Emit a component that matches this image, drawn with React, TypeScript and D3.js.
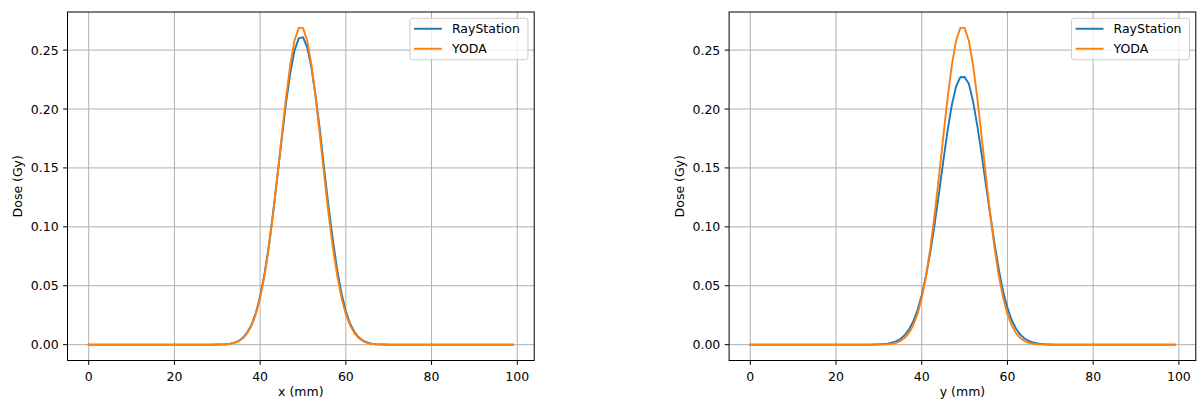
import React from 'react';
import * as d3 from 'd3';

// Depth profiles sampled every mm (0..99 mm)
const positionsMm = d3.range(0, 100);

const xRayStation = [
  0, 0, 0, 0, 0, 0, 0, 0, 0, 0,
  0, 0, 0, 0, 0, 0, 0, 0, 0, 0,
  0, 0, 0, 0, 0, 0, 0, 0, 0, 0,
  0.0001, 0.0002, 0.0004, 0.0009, 0.0017, 0.0032, 0.0059, 0.0103, 0.0170, 0.0268,
  0.0410, 0.0595, 0.0830, 0.1115, 0.1420, 0.1735, 0.2041, 0.2299, 0.2492, 0.2600,
  0.2610, 0.2521, 0.2344, 0.2096, 0.1805, 0.1470, 0.1160, 0.0880, 0.0630, 0.0432,
  0.0283, 0.0178, 0.0107, 0.0062, 0.0034, 0.0018, 0.0009, 0.0004, 0.0002, 0.0001,
  0, 0, 0, 0, 0, 0, 0, 0, 0, 0,
  0, 0, 0, 0, 0, 0, 0, 0, 0, 0,
  0, 0, 0, 0, 0, 0, 0, 0, 0, 0,
];

const xYoda = [
  0, 0, 0, 0, 0, 0, 0, 0, 0, 0,
  0, 0, 0, 0, 0, 0, 0, 0, 0, 0,
  0, 0, 0, 0, 0, 0, 0, 0, 0, 0,
  0.0001, 0.0002, 0.0004, 0.0008, 0.0016, 0.0031, 0.0056, 0.0098, 0.0163, 0.0259,
  0.0397, 0.0582, 0.0818, 0.1101, 0.1421, 0.1758, 0.2083, 0.2367, 0.2577, 0.2689,
  0.2689, 0.2577, 0.2367, 0.2083, 0.1758, 0.1421, 0.1101, 0.0818, 0.0582, 0.0397,
  0.0259, 0.0163, 0.0098, 0.0056, 0.0031, 0.0016, 0.0008, 0.0004, 0.0002, 0.0001,
  0, 0, 0, 0, 0, 0, 0, 0, 0, 0,
  0, 0, 0, 0, 0, 0, 0, 0, 0, 0,
  0, 0, 0, 0, 0, 0, 0, 0, 0, 0,
];

const yRayStation = [
  0, 0, 0, 0, 0, 0, 0, 0, 0, 0,
  0, 0, 0, 0, 0, 0, 0, 0, 0, 0,
  0, 0, 0, 0, 0, 0, 0, 0, 0, 0.0001,
  0.0002, 0.0005, 0.0009, 0.0016, 0.0028, 0.0048, 0.0080, 0.0128, 0.0196, 0.0292,
  0.0420, 0.0585, 0.0785, 0.1020, 0.1280, 0.1550, 0.1810, 0.2030, 0.2190, 0.2270,
  0.2272, 0.2215, 0.2060, 0.1850, 0.1610, 0.1350, 0.1100, 0.0855, 0.0635, 0.0450,
  0.0312, 0.0207, 0.0135, 0.0085, 0.0052, 0.0031, 0.0018, 0.0010, 0.0005, 0.0002,
  0.0001, 0, 0, 0, 0, 0, 0, 0, 0, 0,
  0, 0, 0, 0, 0, 0, 0, 0, 0, 0,
  0, 0, 0, 0, 0, 0, 0, 0, 0, 0,
];

const yYoda = [
  0, 0, 0, 0, 0, 0, 0, 0, 0, 0,
  0, 0, 0, 0, 0, 0, 0, 0, 0, 0,
  0, 0, 0, 0, 0, 0, 0, 0, 0, 0,
  0.0001, 0.0002, 0.0004, 0.0008, 0.0016, 0.0031, 0.0056, 0.0098, 0.0163, 0.0259,
  0.0397, 0.0582, 0.0818, 0.1101, 0.1421, 0.1758, 0.2083, 0.2367, 0.2577, 0.2689,
  0.2689, 0.2577, 0.2367, 0.2083, 0.1758, 0.1421, 0.1101, 0.0818, 0.0582, 0.0397,
  0.0259, 0.0163, 0.0098, 0.0056, 0.0031, 0.0016, 0.0008, 0.0004, 0.0002, 0.0001,
  0, 0, 0, 0, 0, 0, 0, 0, 0, 0,
  0, 0, 0, 0, 0, 0, 0, 0, 0, 0,
  0, 0, 0, 0, 0, 0, 0, 0, 0, 0,
];

const seriesNames = ['RayStation', 'YODA'];
const seriesColors = ['#1f77b4', '#ff7f0e'];

const FONT = '"DejaVu Sans", sans-serif';
const FS = 12.5;
const TICK = 4.4;

type PanelProps = {
  left: number;
  right: number;
  top: number;
  bottom: number;
  series: number[][];
  xLabel: string;
};

function ProfilePanel({ left, right, top, bottom, series, xLabel }: PanelProps) {
  // matplotlib-like 5% margins
  const xExt = d3.extent(positionsMm) as [number, number];
  const xPad = (xExt[1] - xExt[0]) * 0.05;
  const allY = series.flat();
  const yExt = d3.extent(allY) as [number, number];
  const yPad = (yExt[1] - yExt[0]) * 0.05;

  const xScale = d3.scaleLinear().domain([xExt[0] - xPad, xExt[1] + xPad]).range([left, right]);
  const yScale = d3.scaleLinear().domain([yExt[0] - yPad, yExt[1] + yPad]).range([bottom, top]);

  const xTicks = xScale.ticks(6);
  const yTicks = yScale.ticks(6);
  const fmtY = d3.format('.2f');

  const line = d3.line<number>()
    .x((_, i) => xScale(positionsMm[i]))
    .y(d => yScale(d));

  const legendW = 118;
  const legendH = 41.5;
  const legendX = right - 6.25 - legendW;
  const legendY = top + 6.25;

  return (
    <g>
      {/* Grid */}
      <g stroke="#b0b0b0" strokeWidth={1}>
        {xTicks.map(t => (
          <line key={`gx${t}`} x1={xScale(t)} x2={xScale(t)} y1={top} y2={bottom} />
        ))}
        {yTicks.map(t => (
          <line key={`gy${t}`} x1={left} x2={right} y1={yScale(t)} y2={yScale(t)} />
        ))}
      </g>

      {/* Profiles */}
      {series.map((s, i) => (
        <path
          key={seriesNames[i]}
          d={line(s) || ''}
          fill="none"
          stroke={seriesColors[i]}
          strokeWidth={1.9}
          strokeLinejoin="round"
          strokeLinecap="square"
        />
      ))}

      {/* Spines */}
      <rect x={left} y={top} width={right - left} height={bottom - top} fill="none" stroke="#000" strokeWidth={1} />

      {/* X ticks */}
      {xTicks.map(t => (
        <g key={`tx${t}`}>
          <line x1={xScale(t)} x2={xScale(t)} y1={bottom} y2={bottom + TICK} stroke="#000" strokeWidth={1} />
          <text x={xScale(t)} y={bottom + 20} textAnchor="middle" fontSize={FS} fontFamily={FONT}>
            {t}
          </text>
        </g>
      ))}

      {/* Y ticks */}
      {yTicks.map(t => (
        <g key={`ty${t}`}>
          <line x1={left - TICK} x2={left} y1={yScale(t)} y2={yScale(t)} stroke="#000" strokeWidth={1} />
          <text x={left - 2 * TICK} y={yScale(t)} dy="0.36em" textAnchor="end" fontSize={FS} fontFamily={FONT}>
            {fmtY(t)}
          </text>
        </g>
      ))}

      {/* Axis labels */}
      <text x={(left + right) / 2} y={396} textAnchor="middle" fontSize={FS} fontFamily={FONT}>
        {xLabel}
      </text>
      <text
        transform={`translate(${left - 45.5},${(top + bottom) / 2}) rotate(-90)`}
        textAnchor="middle"
        fontSize={FS}
        fontFamily={FONT}
      >
        Dose (Gy)
      </text>

      {/* Legend */}
      <g>
        <rect
          x={legendX}
          y={legendY}
          width={legendW}
          height={legendH}
          rx={2.5}
          fill="#fff"
          fillOpacity={0.8}
          stroke="#cccccc"
          strokeWidth={1}
        />
        {seriesNames.map((name, i) => {
          const ry = legendY + 10.5 + i * 20;
          return (
            <g key={name}>
              <line
                x1={legendX + 5}
                x2={legendX + 31}
                y1={ry}
                y2={ry}
                stroke={seriesColors[i]}
                strokeWidth={1.9}
                strokeLinecap="square"
              />
              <text x={legendX + 42} y={ry} dy="0.36em" fontSize={FS} fontFamily={FONT}>
                {name}
              </text>
            </g>
          );
        })}
      </g>
    </g>
  );
}

export default function App() {
  return (
    <svg
      width={1200}
      height={401}
      style={{ position: 'absolute', left: 0, top: 0, background: '#fff' }}
    >
      <rect width={1200} height={401} fill="#fff" />
      <ProfilePanel left={67.5} right={534.2} top={12} bottom={360.5} series={[xRayStation, xYoda]} xLabel="x (mm)" />
      <ProfilePanel left={729.1} right={1195.8} top={12} bottom={360.5} series={[yRayStation, yYoda]} xLabel="y (mm)" />
    </svg>
  );
}
